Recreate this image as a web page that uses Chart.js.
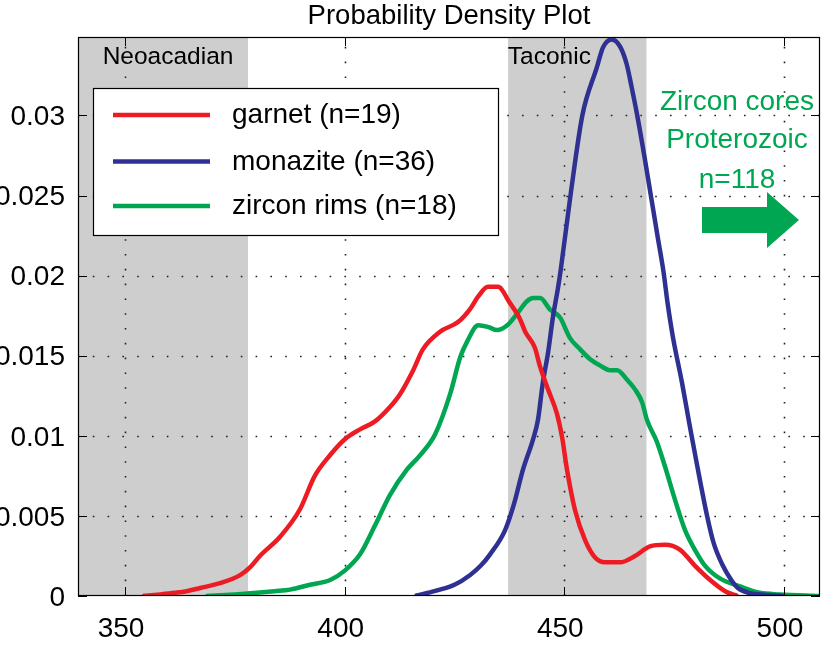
<!DOCTYPE html>
<html><head><meta charset="utf-8">
<script src="https://cdn.jsdelivr.net/npm/chart.js@4.4.1/dist/chart.umd.min.js"></script>
<style>html,body{margin:0;padding:0;background:#fff;}canvas{display:block;}</style>
</head><body>
<canvas id="c" width="824" height="646"></canvas>
<script>
// ---------- data ----------
const garnetAge = [354,358,361.4,364,367.1,371.6,376.2,378.5,380.7,385.3,389.8,393.2,396.7,400.1,403.5,406.9,410.3,412.6,415.6,417.8,421.7,425.8,428.5,430.4,432.6,434.9,437.6,439.9,441.1,443.3,444.5,446.3,448.3,449.5,450.6,452.4,454.7,457,459.3,462.7,466.1,469.5,472.9,476.3,479.7,483.2,486.6,489.5];
const garnetPdf = [0,0.0001,0.0002,0.0003,0.0005,0.0008,0.0013,0.0018,0.0025,0.0037,0.0054,0.0075,0.0088,0.0098,0.0104,0.0109,0.0118,0.0126,0.0141,0.0154,0.0165,0.0171,0.0179,0.0187,0.0193,0.0193,0.0183,0.0173,0.0165,0.0155,0.0143,0.0129,0.0114,0.0099,0.0079,0.0054,0.0035,0.0024,0.0021,0.0021,0.0025,0.0031,0.0032,0.0029,0.0019,0.001,0.0003,0];

const monaziteAge = [416,419,421.7,425,428.5,431,433.1,436.5,438.5,440.6,442.9,444,445.1,446.3,447.4,448.6,449.2,451.4,454.1,457.4,458.8,460.8,462.7,464.2,465.3,466.6,468.2,469.7,471.2,472.6,473.5,474.7,476.8,478.5,480.2,482.5,484,485.9,488,489.5,492,495,500];
const monazitePdf = [0,0.0002,0.0004,0.0007,0.0013,0.0019,0.0026,0.0041,0.0057,0.0079,0.0098,0.011,0.0133,0.0152,0.0174,0.0193,0.0204,0.025,0.03,0.033,0.03425,0.03475,0.0343,0.0332,0.0318,0.03,0.0275,0.025,0.0225,0.0202,0.0183,0.0162,0.0133,0.0107,0.0082,0.005,0.0033,0.002,0.001,0.0005,0.0002,0.0001,0];

const zirconAge = [368.4,375,380,384,387.6,392.1,396.7,400.1,403.5,406.9,410.3,414.2,417.2,420.6,424,426.3,427.9,430.4,432.6,434.7,437,439.2,441.5,442.9,444.5,446.7,449,451.3,453.6,455.8,458.1,460.4,462,464.3,466.1,467.7,468.8,471.1,472.9,475.2,477.5,479.7,482,485.4,490,494.5,499,508];
const zirconPdf = [0,0.0001,0.0002,0.0003,0.0004,0.0007,0.001,0.0016,0.0026,0.0044,0.0063,0.0079,0.0088,0.0101,0.0126,0.0149,0.0159,0.0169,0.0168,0.0166,0.0169,0.0176,0.0184,0.0186,0.0186,0.0179,0.0174,0.0161,0.0154,0.0148,0.0144,0.0141,0.0141,0.0135,0.0129,0.0121,0.011,0.0096,0.0081,0.006,0.0041,0.0029,0.0019,0.0011,0.0006,0.0002,0.0001,0];

const seriesNames = ['garnet (n=19)','monazite (n=36)','zircon rims (n=18)'];
const seriesColors = ['#ed1c24','#2e3192','#00a651'];
const xTicks = [350,400,450,500];
const yTicks = [0,0.005,0.01,0.015,0.02,0.025,0.03];
const bandNames = ['Neoacadian','Taconic'];
const bandStart = [339.3,437.2];
const bandEnd = [378,468.7];
const bandLabelAt = [359.8,446.6];
const noteLines = ['Zircon cores','Proterozoic','n=118'];
const titleText = 'Probability Density Plot';

const FONT = '"Liberation Sans", Arial, Helvetica, sans-serif';
Chart.defaults.font.family = FONT;
Chart.defaults.color = '#000';

function pts(a,p){ return a.map((v,i)=>({x:v,y:p[i]})); }

const deco = {
  id:'deco',
  beforeDatasetsDraw(chart){
    const {ctx, chartArea:a, scales:{x,y}} = chart;
    ctx.save();
    ctx.fillStyle = '#cecece';
    for (let i=0;i<bandStart.length;i++){
      const x0 = Math.max(a.left, x.getPixelForValue(bandStart[i]));
      const x1 = Math.min(a.right, x.getPixelForValue(bandEnd[i]));
      ctx.fillRect(x0, a.top, x1-x0, a.bottom-a.top);
    }
    ctx.strokeStyle = '#222'; ctx.lineWidth = 1.6; ctx.setLineDash([1.6,13.2]);
    xTicks.forEach(v=>{
      const px = Math.round(x.getPixelForValue(v))+0.5;
      ctx.beginPath(); ctx.moveTo(px,a.bottom); ctx.lineTo(px,a.top); ctx.stroke();
    });
    yTicks.forEach(v=>{
      if (v===0) return;
      const py = Math.round(y.getPixelForValue(v))+0.5;
      ctx.beginPath(); ctx.moveTo(a.left,py); ctx.lineTo(a.right,py); ctx.stroke();
    });
    ctx.setLineDash([]);
    ctx.fillStyle = '#000'; ctx.font = '24.5px '+FONT; ctx.textAlign='center'; ctx.textBaseline='middle';
    bandNames.forEach((n,i)=>ctx.fillText(n, x.getPixelForValue(bandLabelAt[i]), a.top+20));
    ctx.restore();
  },
  afterDatasetsDraw(chart){
    const {ctx, chartArea:a, scales:{x,y}} = chart;
    ctx.save();
    // frame
    ctx.strokeStyle='#000'; ctx.lineWidth=1.2;
    ctx.strokeRect(a.left+0.5, a.top+0.5, a.right-a.left-1, a.bottom-a.top-1);
    // inward ticks
    ctx.lineWidth=1;
    xTicks.forEach(v=>{
      const px = Math.round(x.getPixelForValue(v))+0.5;
      ctx.beginPath(); ctx.moveTo(px,a.bottom); ctx.lineTo(px,a.bottom-9);
      ctx.moveTo(px,a.top); ctx.lineTo(px,a.top+9); ctx.stroke();
    });
    yTicks.forEach(v=>{
      const py = Math.round(y.getPixelForValue(v))+0.5;
      ctx.beginPath(); ctx.moveTo(a.left,py); ctx.lineTo(a.left+9,py);
      ctx.moveTo(a.right,py); ctx.lineTo(a.right-9,py); ctx.stroke();
    });
    // legend
    const lx=a.left+15, ly=a.top+51, lw=405, lh=147;
    ctx.fillStyle='#fff'; ctx.fillRect(lx,ly,lw,lh);
    ctx.strokeStyle='#000'; ctx.lineWidth=1.2; ctx.strokeRect(lx+0.5,ly+0.5,lw,lh);
    const rowY=[ly+27, ly+73.5, ly+118];
    ctx.font='28px '+FONT; ctx.textAlign='left'; ctx.textBaseline='alphabetic';
    seriesNames.forEach((n,i)=>{
      ctx.strokeStyle=seriesColors[i]; ctx.lineWidth=4.5;
      ctx.beginPath(); ctx.moveTo(lx+20,rowY[i]); ctx.lineTo(lx+117,rowY[i]); ctx.stroke();
      ctx.fillStyle='#000'; ctx.fillText(n, lx+139, rowY[i]+8);
    });
    // note
    ctx.fillStyle='#00a651'; ctx.textAlign='center';
    const nb=[110,148,188];
    noteLines.forEach((t,i)=>ctx.fillText(t, a.right-83, nb[i]));
    // arrow
    const r=a.right;
    ctx.beginPath();
    ctx.moveTo(r-118,207); ctx.lineTo(r-53,207); ctx.lineTo(r-53,192); ctx.lineTo(r-21,220);
    ctx.lineTo(r-53,248); ctx.lineTo(r-53,233); ctx.lineTo(r-118,233); ctx.closePath();
    ctx.fill();
    // title
    ctx.fillStyle='#000'; ctx.font='27.5px '+FONT; ctx.textAlign='center';
    ctx.fillText(titleText, (a.left+a.right)/2, 24);
    ctx.restore();
  }
};

new Chart(document.getElementById('c'), {
  type:'line',
  data:{ datasets:[
    {label:seriesNames[0], data:pts(garnetAge,garnetPdf), borderColor:seriesColors[0]},
    {label:seriesNames[1], data:pts(monaziteAge,monazitePdf), borderColor:seriesColors[1]},
    {label:seriesNames[2], data:pts(zirconAge,zirconPdf), borderColor:seriesColors[2]}
  ].map(d=>Object.assign(d,{borderWidth:4.5,pointRadius:0,fill:false,cubicInterpolationMode:'monotone'}))},
  options:{
    responsive:false, animation:false, events:[],
    layout:{padding:{top:37,left:0,right:4,bottom:0}},
    plugins:{legend:{display:false}, title:{display:false}, tooltip:{enabled:false}},
    scales:{
      x:{type:'linear', min:339.3, max:508.2,
         grid:{display:false}, border:{display:false},
         ticks:{font:{size:28}, color:'#000', padding:8, labelOffset:-4, maxRotation:0, autoSkip:false, callback:v=>String(v)},
         afterBuildTicks:s=>{ s.ticks = xTicks.map(v=>({value:v})); },
         afterFit:s=>{ s.height = 50; }},
      y:{type:'linear', min:0, max:0.0349,
         grid:{display:false}, border:{display:false},
         ticks:{font:{size:28}, color:'#000', padding:5, labelOffset:2, autoSkip:false, callback:v=>String(+Number(v).toFixed(3))},
         afterBuildTicks:s=>{ s.ticks = yTicks.map(v=>({value:v})); },
         afterFit:s=>{ s.width = 78; }}
    }
  },
  plugins:[deco]
});
</script>
</body></html>
